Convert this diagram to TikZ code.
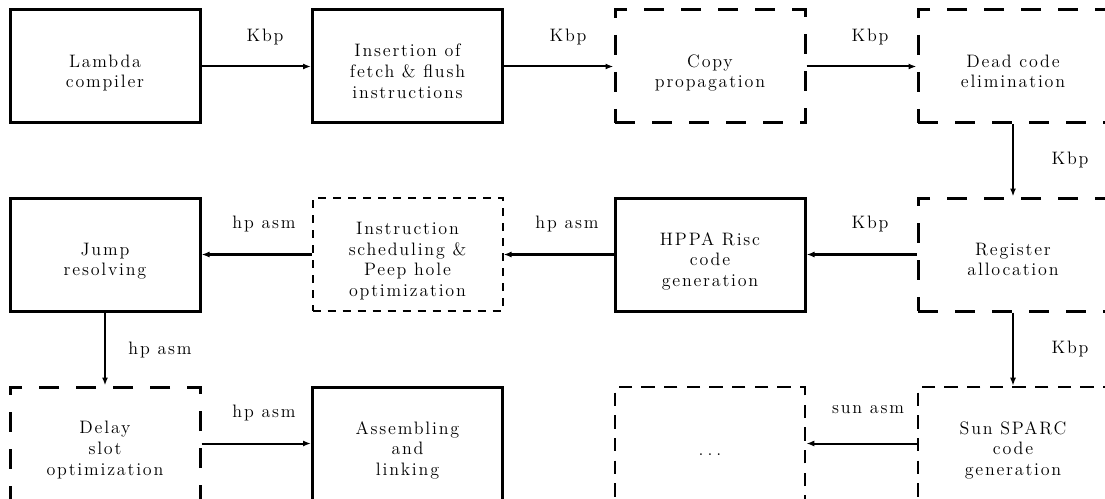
\documentclass[tikz,border=0pt]{standalone}
\usepackage{fontspec}
\newfontfamily\dfont{lmroman12-regular.otf}[LetterSpace=10]
\usetikzlibrary{arrows.meta}
\tikzset{
  every node/.style={font=\dfont\fontsize{13.5}{15.5}\selectfont},
  stage/.style={minimum width=142.5pt, minimum height=84.75pt, inner sep=0pt},
  solidbox/.style={stage, draw, line width=2.25pt},
  dashbig/.style={stage, draw, line width=2.25pt, dash pattern=on 15pt off 12.75pt},
  dashmid/.style={stage, draw, line width=1.9pt, dash pattern=on 10pt off 7pt},
  dashsmall/.style={stage, draw, line width=1.5pt, dash pattern=on 6pt off 5.25pt},
  boxtext/.style={align=center, inner sep=0pt, yshift=-5.9pt,
    execute at begin node=\strut, execute at end node=\strut},
  arr/.style={line width=1.5pt, -{Latex[length=6pt,width=4.5pt]}},
  arrthick/.style={line width=2.25pt, -{Latex[length=6pt,width=4.5pt]}},
  lbl/.style={inner sep=0pt}
}
\begin{document}
\begin{tikzpicture}[x=0.75pt,y=-0.75pt]
\useasboundingbox (0,0) rectangle (1105,499);
% row 1
\node[solidbox] (lam) at (105,66.5) {};
\node[solidbox] (ins) at (407.5,66.5) {};
\node[dashbig] (cop) at (710,66.5) {};
\node[dashbig] (dead) at (1013,66.5) {};
% row 2
\node[solidbox] (jump) at (105,254.5) {};
\node[dashsmall] (sched) at (407.5,254.5) {};
\node[solidbox] (hppa) at (710,254.5) {};
\node[dashbig] (reg) at (1013,254.5) {};
% row 3
\node[dashbig] (delay) at (105,443.5) {};
\node[solidbox] (asm) at (407.5,443.5) {};
\node[dashmid] (dots) at (710,443.5) {};
\node[dashmid] (sun) at (1013,443.5) {};
% box texts
\node[boxtext] (tlam) at (lam.center) {Lambda\\compiler};
\node[boxtext] (tins) at (ins.center) {Insertion of\\fetch \& flush\\instructions};
\node[boxtext] (tcop) at (cop.center) {Copy\\propagation};
\node[boxtext] (tdead) at (dead.center) {Dead code\\elimination};
\node[boxtext] (tjump) at (jump.center) {Jump\\resolving};
\node[boxtext] (tsched) at (sched.center) {Instruction\\scheduling \&\\Peep hole\\optimization};
\node[boxtext] (thppa) at (hppa.center) {HPPA Risc\\code\\generation};
\node[boxtext] (treg) at (reg.center) {Register\\allocation};
\node[boxtext] (tdelay) at (delay.center) {Delay\\slot\\optimization};
\node[boxtext] (tasm) at (asm.center) {Assembling\\and\\linking};
\node[boxtext] (tdots) at (dots.center) {.\hspace{3pt}.\hspace{3pt}.};
\node[boxtext] (tsun) at (sun.center) {Sun SPARC\\code\\generation};
% connectors
\draw[arr] (lam.east) -- (ins.west);
\draw[arr] (ins.east) -- (cop.west);
\draw[arr] (cop.east) -- (dead.west);
\draw[arr] (dead.south) -- (reg.north);
\draw[arrthick] (reg.west) -- (hppa.east);
\draw[arrthick] (hppa.west) -- (sched.east);
\draw[arrthick] (sched.west) -- (jump.east);
\draw[arr] (jump.south) -- (delay.north);
\draw[arr] (delay.east) -- (asm.west);
\draw[arr] (reg.south) -- (sun.north);
\draw[arr] (sun.west) -- (dots.east);
% labels
\node[lbl] (l1) at (265,37) {Kbp};
\node[lbl] (l2) at (568,37) {Kbp};
\node[lbl] (l3) at (870,37) {Kbp};
\node[lbl] (l4) at (1070,160) {Kbp};
\node[lbl] (l5) at (870,224) {Kbp};
\node[lbl] (l6) at (567,224) {hp asm};
\node[lbl] (l7) at (264,224) {hp asm};
\node[lbl] (l8) at (160,350) {hp asm};
\node[lbl] (l9) at (1070,349) {Kbp};
\node[lbl] (l10) at (264,413) {hp asm};
\node[lbl] (l11) at (868,410) {sun asm};
\end{tikzpicture}
\end{document}
